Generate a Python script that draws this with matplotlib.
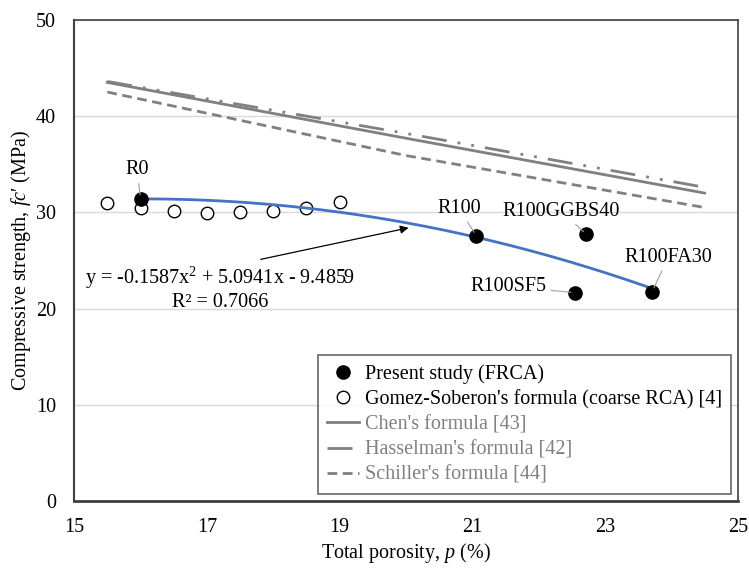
import matplotlib
matplotlib.use('Agg')
import matplotlib.pyplot as plt
import numpy as np

plt.rcParams['font.family'] = ['Liberation Serif', 'DejaVu Serif']
plt.rcParams['mathtext.fontset'] = 'custom'
plt.rcParams['mathtext.rm'] = 'Liberation Serif'
plt.rcParams['mathtext.it'] = 'Liberation Serif:italic'

# present study (FRCA)
mixes = ['R0', 'R100', 'R100GGBS40', 'R100SF5', 'R100FA30']
frca_p = [16.0, 21.06, 22.72, 22.55, 23.71]
frca_fc = [31.4, 27.55, 27.7, 21.65, 21.75]

# Gomez-Soberon's formula (coarse RCA)
gs_p = [15.5, 16.0, 16.5, 17.0, 17.5, 18.0, 18.5, 19.0]
gs_fc = [31.0, 30.4, 30.1, 29.9, 30.0, 30.1, 30.5, 31.1]

# formula lines
form_p = [15.5, 20.0, 24.5]
chen_fc = [43.5, 37.7, 32.0]
hassel_fc = [43.6, 38.2, 32.6]
schiller_fc = [42.5, 35.9, 30.5]

# quadratic trend line coefficients
fit_coef = [-0.1587, 5.0941, -9.4859]

label_pos = {'R0': (15.95, 34.4), 'R100': (20.8, 30.4), 'R100GGBS40': (22.34, 30.1),
             'R100SF5': (21.55, 22.3), 'R100FA30': (23.95, 25.3)}

fs = 14.5
fig = plt.figure(figsize=(7.49, 5.68), dpi=100)
ax = fig.add_axes([0.099, 0.118, 0.886, 0.847])

gray = '#808080'
ax.plot(form_p, chen_fc, color=gray, lw=2, label="Chen's formula [43]", zorder=2)
ax.plot(form_p, hassel_fc, color=gray, lw=2, dashes=(9, 4, 1, 4, 1, 4),
        label="Hasselman's formula [42]", zorder=2)
ax.plot(form_p, schiller_fc, color=gray, lw=2, dashes=(3.5, 2),
        label="Schiller's formula [44]", zorder=2)

xf = np.linspace(frca_p[0], max(frca_p), 100)
ax.plot(xf, np.polyval(fit_coef, xf), color='#4472C4', lw=2, zorder=4)

ax.plot(frca_p, frca_fc, 'o', color='black', ms=9.5, label='Present study (FRCA)', zorder=5)
ax.plot(gs_p, gs_fc, 'o', mfc='white', mec='black', mew=1, ms=9,
        label="Gomez-Soberon's formula (coarse RCA) [4]", zorder=3)

for name, px, py in zip(mixes, frca_p, frca_fc):
    tx, ty = label_pos[name]
    ax.annotate(name, xy=(px, py), xytext=(tx, ty), ha='center', va='center', fontsize=fs,
                arrowprops=dict(arrowstyle='-', color='#a0a0a0', lw=0.8, shrinkA=1, shrinkB=3),
                zorder=6)

ax.annotate('', xy=(20.08, 28.45), xytext=(17.77, 25.05),
            arrowprops=dict(arrowstyle='-|>', color='black', lw=0.9, mutation_scale=12))
ax.text(17.2, 23.2, 'y = -0.1587x$^2$ + 5.0941x - 9.4859', ha='center', va='center', fontsize=fs)
ax.text(17.2, 20.6, 'R² = 0.7066', ha='center', va='center', fontsize=fs)

ax.set_xlim(15, 25)
ax.set_ylim(0, 50)
ax.set_xticks([15, 17, 19, 21, 23, 25])
ax.set_yticks([0, 10, 20, 30, 40, 50])
ax.tick_params(length=0, labelsize=fs)
ax.tick_params(axis='y', pad=13)
ax.tick_params(axis='x', pad=12)
ax.grid(axis='y', color='#d9d9d9', lw=1)
ax.set_axisbelow(True)
for s in ax.spines.values():
    s.set_color('#404040')
    s.set_linewidth(1.2)
ax.spines['bottom'].set_linewidth(2)
ax.spines['left'].set_linewidth(1.5)

ax.set_xlabel('Total porosity, $p$ (%)', fontsize=fs, labelpad=3)
ax.set_ylabel('Compressive strength, $fc$′ (MPa)', fontsize=fs, labelpad=2)

h, l = ax.get_legend_handles_labels()
order = [3, 4, 0, 1, 2]
leg = ax.legend([h[i] for i in order], [l[i] for i in order], loc='lower right',
                bbox_to_anchor=(0.99, 0.015), fontsize=fs, frameon=True, fancybox=False,
                handlelength=1.6, handletextpad=0.3, labelspacing=0.3, borderpad=0.45,
                borderaxespad=0)
leg.get_frame().set_edgecolor('#404040')
leg.get_frame().set_linewidth(1.2)
for i, t in enumerate(leg.get_texts()):
    if i >= 2:
        t.set_color(gray)

fig.savefig('out.png', dpi=100)
